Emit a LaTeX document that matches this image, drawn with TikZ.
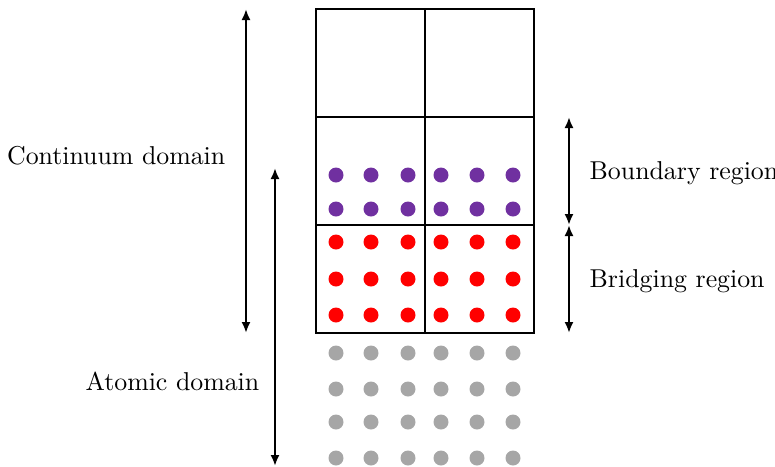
\documentclass[tikz,border=0pt]{standalone}
\usetikzlibrary{arrows.meta}
\definecolor{purp}{RGB}{112,48,160}
\definecolor{grayd}{RGB}{166,166,166}
\newcommand{\lbltext}[1]{\scalebox{0.735}{#1}}
\begin{document}
\begin{tikzpicture}[x=0.1mm,y=-0.1mm,
  gridline/.style={line width=0.7pt},
  dimarrow/.style={line width=0.6pt,{Latex[length=1.1mm,width=0.9mm]}-{Latex[length=1.1mm,width=0.9mm]}},
  lbl/.style={font=\normalsize,inner sep=0pt},
  pdot/.style={fill=purp},
  rdot/.style={fill=red},
  gdot/.style={fill=grayd}]
\useasboundingbox (0,0) rectangle (775,466);
% grid
\draw[gridline] (316,9) rectangle (534,333);
\draw[gridline] (425,9) -- (425,333);
\draw[gridline] (316,117) -- (534,117);
\draw[gridline] (316,225) -- (534,225);
% dots
\foreach \x in {336,371,408,441,477,513}{
  \foreach \y in {175,209} \fill[pdot] (\x,\y) circle (7.5);
  \foreach \y in {242,279,315} \fill[rdot] (\x,\y) circle (7.5);
  \foreach \y in {353,389,422,458} \fill[gdot] (\x,\y) circle (7.5);
}
% coordinates
\coordinate (c1) at (246,9);
\coordinate (c2) at (246,333);
\coordinate (a1) at (275,168);
\coordinate (a2) at (275,466);
\coordinate (b1) at (569,117);
\coordinate (b2) at (569,225);
\coordinate (g1) at (569,225);
\coordinate (g2) at (569,333);
\draw[dimarrow] (c1) -- (c2);
\draw[dimarrow] (a1) -- (a2);
\draw[dimarrow] (b1) -- (b2);
\draw[dimarrow] (g1) -- (g2);
% labels
\node[lbl,anchor=east] (cont) at (226,156) {\lbltext{Continuum domain}};
\node[lbl,anchor=east] (atom) at (260,381) {\lbltext{Atomic domain}};
\node[lbl,anchor=west] (bound) at (589,173) {\lbltext{Boundary region}};
\node[lbl,anchor=west] (bridge) at (589,281) {\lbltext{Bridging region}};
\end{tikzpicture}
\end{document}
